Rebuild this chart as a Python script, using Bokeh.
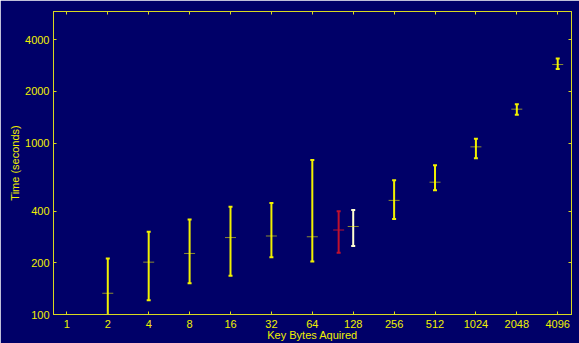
from bokeh.plotting import figure
from bokeh.models import LogAxis, FixedTicker, Range1d, CustomJSTickFormatter, ColumnDataSource
from bokeh.embed import file_html
from bokeh.resources import INLINE

# ---- data ----
key_bytes = [2, 4, 8, 16, 32, 64, 256, 512, 1024, 2048, 4096]
mean_time = [133, 202, 227, 281, 287, 284, 463, 591, 950, 1576, 2870]
low_time = [60, 121, 152, 168, 216, 204, 361, 531, 816, 1461, 2706]
high_time = [212, 304, 358, 425, 447, 795, 607, 741, 1061, 1684, 3108]

red_bytes = [100]
red_mean = [311]
red_low = [229]
red_high = [400]

white_bytes = [128]
white_mean = [326]
white_low = [251]
white_high = [407]

x_ticks = [1, 2, 4, 8, 16, 32, 64, 128, 256, 512, 1024, 2048, 4096]
y_ticks = [100, 200, 400, 1000, 2000, 4000]

# ---- style ----
BG = "#000068"
AX = "#D8D820"
TXT = "#F0F000"
FONT = "Liberation Sans"

p = figure(width=579, height=343, x_axis_type="log", y_axis_type="log",
           x_range=Range1d(0.797, 5173), y_range=Range1d(100, 5850),
           output_backend="svg", toolbar_location=None,
           background_fill_color=BG, border_fill_color=BG,
           min_border_left=53, min_border_right=8, min_border_top=11, min_border_bottom=27)
p.grid.visible = False
p.outline_line_color = AX
p.outline_line_width = 1

fmt = CustomJSTickFormatter(code="return Math.round(tick).toString();")


def style_axis(ax, ticks, show_labels):
    ax.ticker = FixedTicker(ticks=ticks, minor_ticks=[])
    ax.formatter = fmt
    ax.axis_line_color = AX
    ax.major_tick_line_color = AX
    ax.major_tick_in = 3
    ax.major_tick_out = 0
    ax.minor_tick_line_color = None
    if show_labels:
        ax.major_label_text_color = TXT
        ax.major_label_text_font = FONT
        ax.major_label_text_font_size = "11px"
    else:
        ax.major_label_text_color = None
        ax.major_label_text_font_size = "0px"
        ax.major_label_standoff = 0


style_axis(p.xaxis[0], x_ticks, True)
style_axis(p.yaxis[0], y_ticks, True)
p.xaxis[0].major_label_standoff = 5
p.yaxis[0].major_label_standoff = 4
p.xaxis[0].axis_label = "Key Bytes Aquired"
p.yaxis[0].axis_label = "Time (seconds)"
for ax in (p.xaxis[0], p.yaxis[0]):
    ax.axis_label_text_color = TXT
    ax.axis_label_text_font = FONT
    ax.axis_label_text_font_size = "11px"
    ax.axis_label_text_font_style = "normal"
p.xaxis[0].axis_label_standoff = -2
p.yaxis[0].axis_label_standoff = 1

top_ax = LogAxis()
right_ax = LogAxis()
style_axis(top_ax, x_ticks, False)
style_axis(right_ax, y_ticks, False)
p.add_layout(top_ax, "above")
p.add_layout(right_ax, "right")


def draw(xs, m, lo, hi, color, center_color, center_alpha):
    src = ColumnDataSource(dict(x=xs, m=m, lo=lo, hi=hi))
    p.segment(x0="x", y0="lo", x1="x", y1="hi", source=src, line_color=color, line_width=2)
    p.scatter(x="x", y="hi", source=src, marker="dash", size=4, line_color=color, line_width=2)
    p.scatter(x="x", y="lo", source=src, marker="dash", size=4, line_color=color, line_width=2)
    p.scatter(x="x", y="m", source=src, marker="dash", size=11, line_color=center_color,
              line_width=1, line_alpha=center_alpha)


draw(key_bytes, mean_time, low_time, high_time, "#F0F000", "#FFFF00", 0.55)
draw(red_bytes, red_mean, red_low, red_high, "#C0102E", "#C0102E", 1.0)
draw(white_bytes, white_mean, white_low, white_high, "#FFFFD0", "#FFFF00", 0.55)

html = file_html(p, INLINE)
html = html.replace("<body>", '<body style="background-color:%s;">' % BG, 1)
open("out.html", "w").write(html)
